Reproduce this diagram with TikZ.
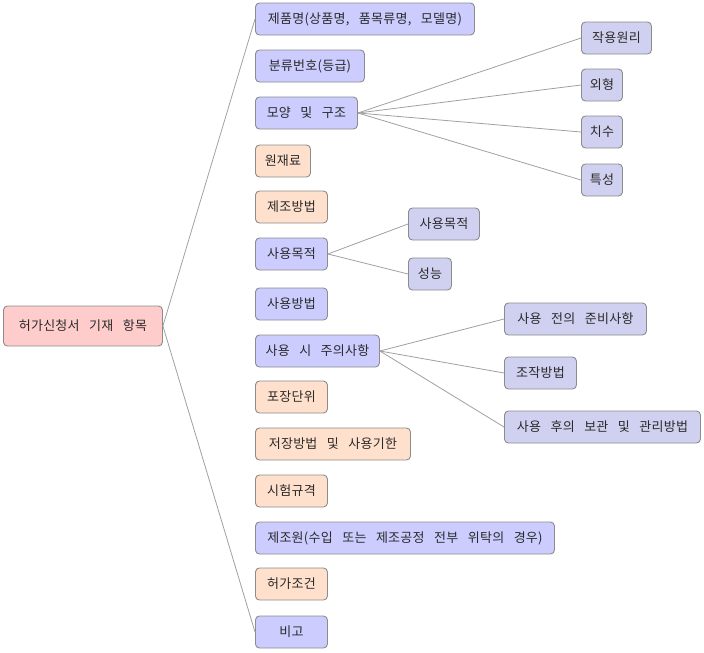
\documentclass[tikz,border=0pt]{standalone}
\usepackage{fontspec}
\newfontfamily\kr[WordSpace=3,LetterSpace=2]{Noto Sans CJK KR}
\definecolor{bd}{HTML}{8C8C8C}
\definecolor{ln}{HTML}{A0A0A0}
\definecolor{txt}{HTML}{2A2A2A}
\definecolor{rootc}{HTML}{FFCCCC}
\definecolor{bluec}{HTML}{CCCCFF}
\definecolor{orc}{HTML}{FFE0CC}
\definecolor{subc}{HTML}{D0D0F0}
\begin{document}
\begin{tikzpicture}[x=1pt,y=-1pt,
  box/.style={draw=bd, rounded corners=4pt, line width=0.9pt, text=txt,
    font=\kr\fontsize{13}{15}\selectfont, minimum height=32pt, inner sep=0pt, anchor=west},
  bl/.style={box, fill=bluec},
  og/.style={box, fill=orc},
  sb/.style={box, fill=subc},
  edge/.style={draw=ln, line width=0.8pt}]
\useasboundingbox (0,0) rectangle (704,653);
% root
\node[box, fill=rootc, minimum width=159pt, minimum height=40pt] (root) at (3,326) {허가신청서 기재 항목};
% level 1
\node[bl, minimum width=219pt] (a1) at (255,19) {제품명(상품명, 품목류명, 모델명)};
\node[bl, minimum width=109pt] (a2) at (255,66) {분류번호(등급)};
\node[bl, minimum width=102pt] (a3) at (255,113) {모양 및 구조};
\node[og, minimum width=55pt] (a4) at (255,161) {원재료};
\node[og, minimum width=72pt] (a5) at (255,207) {제조방법};
\node[bl, minimum width=72pt] (a6) at (255,254) {사용목적};
\node[bl, minimum width=72pt] (a7) at (255,304) {사용방법};
\node[bl, minimum width=124pt] (a8) at (255,351) {사용 시 주의사항};
\node[og, minimum width=72pt] (a9) at (255,397) {포장단위};
\node[og, minimum width=155pt] (a10) at (255,444) {저장방법 및 사용기한};
\node[og, minimum width=72pt] (a11) at (255,491) {시험규격};
\node[bl, minimum width=299pt] (a12) at (255,538) {제조원(수입 또는 제조공정 전부 위탁의 경우)};
\node[og, minimum width=72pt] (a13) at (255,584) {허가조건};
\node[bl, minimum width=72pt] (a14) at (255,632) {비고};
% level 2
\node[sb, minimum width=70pt] (b1) at (581,38) {작용원리};
\node[sb, minimum width=41pt] (b2) at (581,85) {외형};
\node[sb, minimum width=41pt] (b3) at (581,132) {치수};
\node[sb, minimum width=41pt] (b4) at (581,180) {특성};
\node[sb, minimum width=71pt] (c1) at (408,224) {사용목적};
\node[sb, minimum width=43pt] (c2) at (408,274) {성능};
\node[sb, minimum width=142pt] (d1) at (504,319) {사용 전의 준비사항};
\node[sb, minimum width=72pt] (d2) at (504,373) {조작방법};
\node[sb, minimum width=196pt] (d3) at (504,427) {사용 후의 보관 및 관리방법};
% connectors
\draw[edge] (root.east) -- (a1.west);
\draw[edge] (root.east) -- (a14.west);
\foreach \t in {b1,b2,b3,b4} \draw[edge] (a3.east) -- (\t.west);
\foreach \t in {c1,c2} \draw[edge] (a6.east) -- (\t.west);
\foreach \t in {d1,d2,d3} \draw[edge] (a8.east) -- (\t.west);
\end{tikzpicture}
\end{document}
